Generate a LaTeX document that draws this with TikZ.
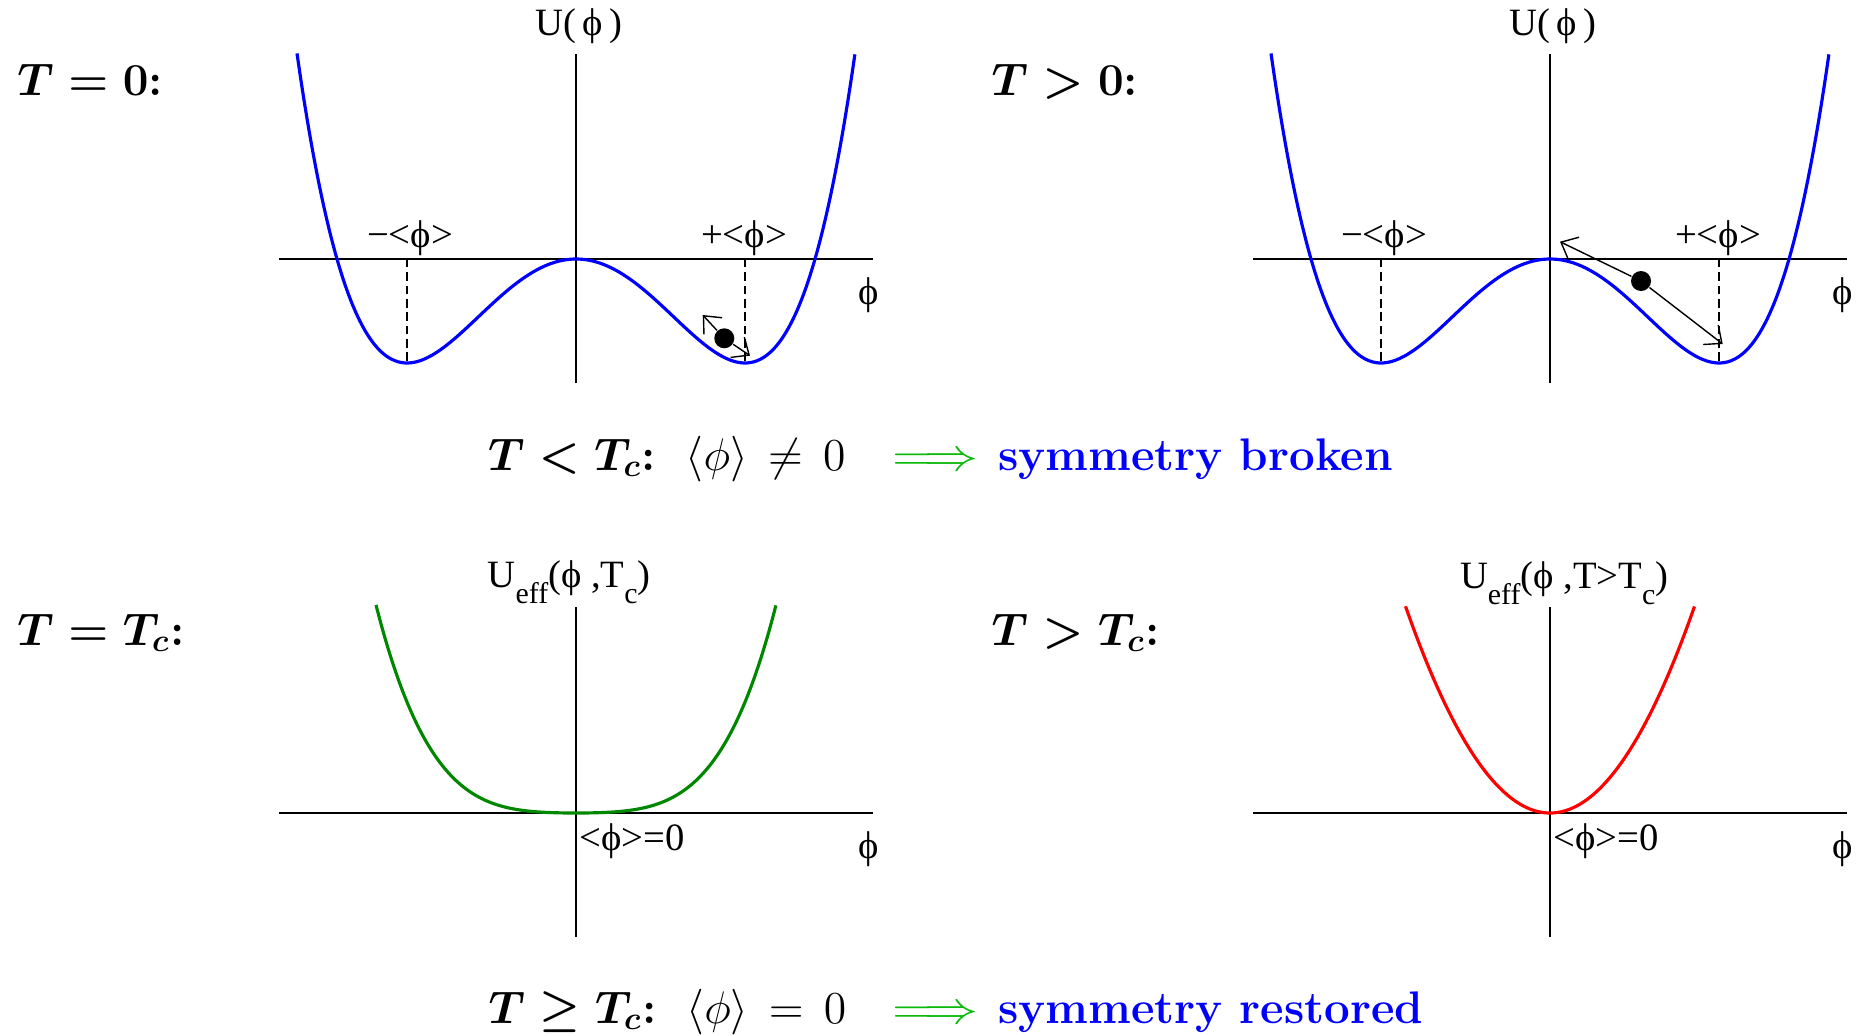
\documentclass[tikz,border=0pt]{standalone}
\usepackage{fix-cm}
\usepackage{amsmath, amssymb}
\usepackage{fontspec}
\newfontfamily\plotfont{Liberation Serif}
\usepackage{tikz}
\usetikzlibrary{arrows.meta, positioning}

\definecolor{potblue}{RGB}{0,0,255}
\definecolor{potgreen}{RGB}{0,135,0}
\definecolor{potred}{RGB}{255,0,0}
\definecolor{implgreen}{RGB}{10,185,10}

\newcommand{\lowsub}[1]{\raisebox{-4.8pt}{\fontsize{8.5}{8.5}\selectfont #1}}
\newcommand{\bigimpl}{\scalebox{1.18}[1]{$\Longrightarrow$}}

\begin{document}
\begin{tikzpicture}[
    >={Straight Barb[length=4pt, width=7pt]},
    axis/.style={line width=0.5pt},
    vevline/.style={line width=0.5pt, dash pattern=on 2.4pt off 1.4pt},
    pot/.style={line width=0.9pt},
    ball/.style={circle, fill=black, inner sep=0pt, minimum size=0.2cm},
    kick/.style={->, line width=0.4pt},
    plbl/.style={font=\plotfont\fontsize{11}{13}\selectfont, inner sep=0pt},
    lbl/.style={font=\fontsize{13}{15}\selectfont, inner sep=0pt, anchor=base west}
]
\useasboundingbox (0,0) rectangle (18.66,10.35);

% T = 0
\begin{scope}[shift={(5.76,7.76)}]
\draw[axis] (-2.97,0) -- (2.97,0);
\draw[axis] (0,-1.24) -- (0,2.05);
\draw[vevline] (-1.69,0) -- (-1.69,-1.04);
\draw[vevline] (1.69,0) -- (1.69,-1.04);
\draw[pot, potblue] plot[domain=-2.79:2.79, samples=161, smooth] (\x, {1.04*(\x*\x/2.8561)*(\x*\x/2.8561-2)});
\node[plbl, anchor=base west] (UA) at (-0.41,2.24) {U(\,ϕ\,)};
\node[plbl, anchor=base] (vevmA) at (-1.66,0.12) {−<ϕ>};
\node[plbl, anchor=base] (vevpA) at (1.68,0.12) {+<ϕ>};
\node[plbl, anchor=base] (phiA) at (2.93,-0.45) {ϕ};
\node[ball] (ballA) at (1.483,-0.793) {};
\coordinate (upA) at (1.267,-0.56);
\coordinate (downA) at (1.74,-0.967);
\draw[kick] (ballA) -- (upA);
\draw[kick] (ballA) -- (downA);
\end{scope}

% T > 0
\begin{scope}[shift={(15.50,7.76)}]
\draw[axis] (-2.97,0) -- (2.97,0);
\draw[axis] (0,-1.24) -- (0,2.05);
\draw[vevline] (-1.69,0) -- (-1.69,-1.04);
\draw[vevline] (1.69,0) -- (1.69,-1.04);
\draw[pot, potblue] plot[domain=-2.79:2.79, samples=161, smooth] (\x, {1.04*(\x*\x/2.8561)*(\x*\x/2.8561-2)});
\node[plbl, anchor=base west] (UB) at (-0.41,2.24) {U(\,ϕ\,)};
\node[plbl, anchor=base] (vevmB) at (-1.66,0.12) {−<ϕ>};
\node[plbl, anchor=base] (vevpB) at (1.68,0.12) {+<ϕ>};
\node[plbl, anchor=base] (phiB) at (2.93,-0.45) {ϕ};
\node[ball] (ballB) at (0.91,-0.22) {};
\coordinate (upB) at (0.10,0.173);
\coordinate (downB) at (1.727,-0.85);
\draw[kick] (ballB) -- (upB);
\draw[kick] (ballB) -- (downB);
\end{scope}

% T = Tc
\begin{scope}[shift={(5.76,2.22)}]
\draw[axis] (-2.97,0) -- (2.97,0);
\draw[axis] (0,-1.24) -- (0,2.06);
\draw[pot, potgreen] plot[domain=-2:2, samples=121, smooth] (\x, {0.115*\x*\x*\x*\x + 0.06*\x*\x});
\node[plbl, anchor=base west] (UC) at (-0.89,2.26) {U\lowsub{eff}(ϕ\ ,T\lowsub{c})};
\node[plbl, anchor=base west] (zeroC) at (0.03,-0.37) {<ϕ>=0};
\node[plbl, anchor=base] (phiC) at (2.93,-0.45) {ϕ};
\end{scope}

% T > Tc
\begin{scope}[shift={(15.50,2.22)}]
\draw[axis] (-2.97,0) -- (2.97,0);
\draw[axis] (0,-1.24) -- (0,2.06);
\draw[pot, potred] plot[domain=-1.445:1.445, samples=121, smooth] (\x, {0.99*\x*\x});
\node[plbl, anchor=base west] (UD) at (-0.907,2.25) {U\lowsub{eff}(ϕ\ ,T>T\lowsub{c})};
\node[plbl, anchor=base west] (zeroD) at (0.03,-0.37) {<ϕ>=0};
\node[plbl, anchor=base] (phiD) at (2.93,-0.45) {ϕ};
\end{scope}

% Temperature labels
\node[lbl] (tzero) at (0.167,9.40) {$\boldsymbol{T=0}$\textbf{:}};
\node[lbl] (tpos) at (9.91,9.40) {$\boldsymbol{T>0}$\textbf{:}};
\node[lbl] (tcrit) at (0.167,3.90) {$\boldsymbol{T=T_c}$\textbf{:}};
\node[lbl] (thigh) at (9.91,3.90) {$\boldsymbol{T>T_c}$\textbf{:}};

% Conclusions
\node[lbl] (lowmath) at (4.873,5.65) {$\boldsymbol{T<T_c}$\textbf{:}\ \ $\langle\phi\rangle\,\neq\,0$};
\node[lbl] (lowimpl) at (8.917,5.65) {\color{implgreen}\bigimpl};
\node[lbl] (lowtext) at (9.973,5.65) {\bfseries\color{potblue}symmetry broken};
\node[lbl] (highmath) at (4.88,0.12) {$\boldsymbol{T\geq T_c}$\textbf{:}\ \ $\langle\phi\rangle\,=\,0$};
\node[lbl] (highimpl) at (8.917,0.12) {\color{implgreen}\bigimpl};
\node[lbl] (hightext) at (9.973,0.12) {\bfseries\color{potblue}symmetry restored};

\end{tikzpicture}
\end{document}
